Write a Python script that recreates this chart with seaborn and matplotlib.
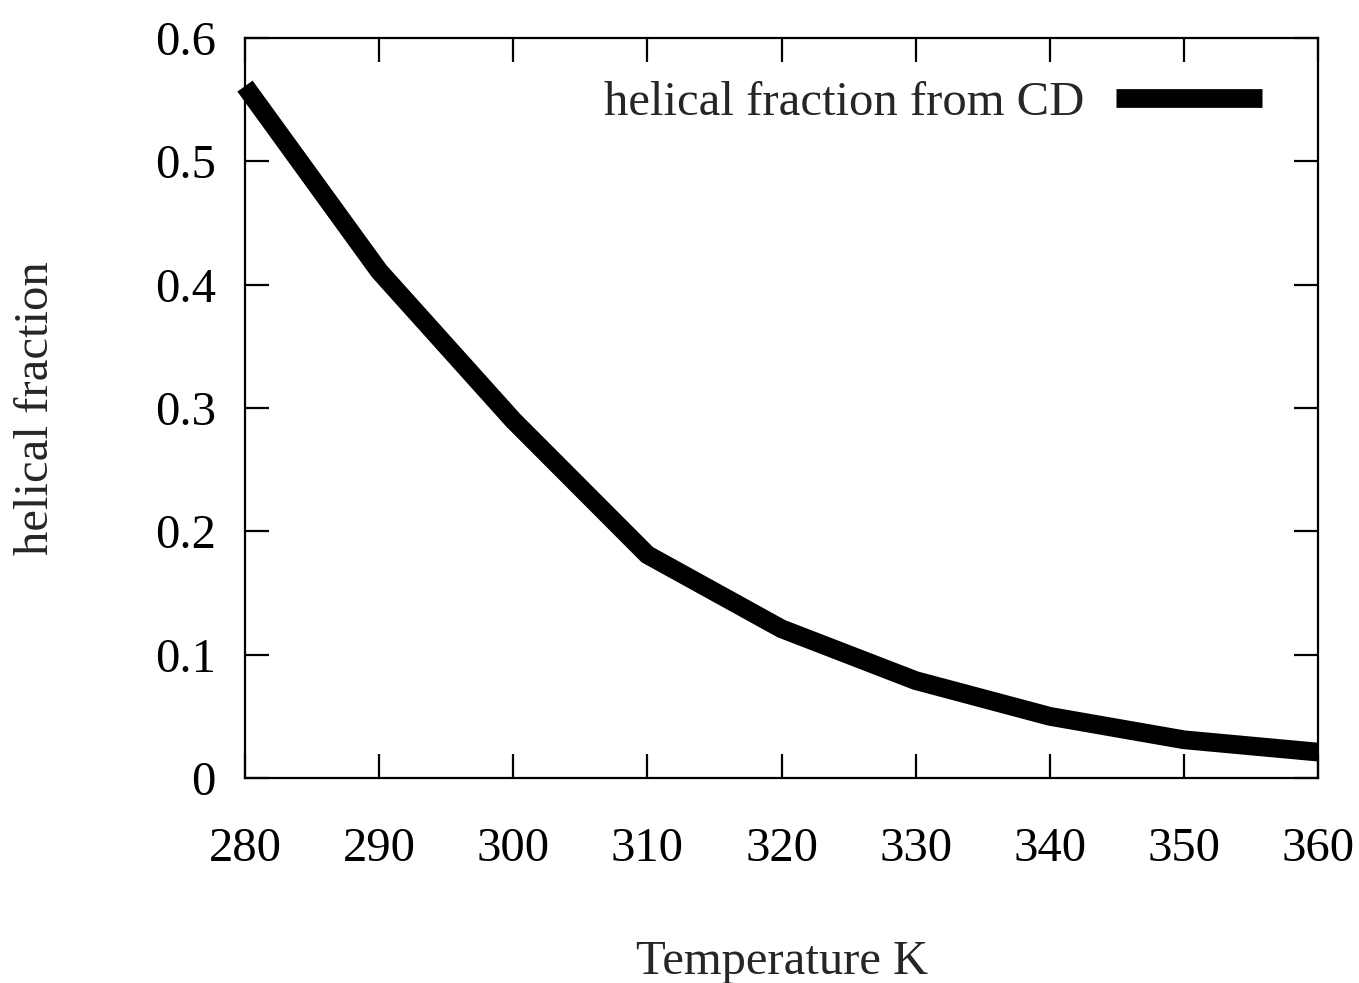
import matplotlib
matplotlib.use("Agg")
import matplotlib.pyplot as plt
import seaborn as sns
import pandas as pd

temperature = [280, 290, 300, 310, 320, 330, 340, 350, 360]
helical_fraction = [0.561, 0.411, 0.290, 0.181, 0.121, 0.079, 0.050, 0.031, 0.021]
series_label = "helical fraction from CD"
x_ticks = [280, 290, 300, 310, 320, 330, 340, 350, 360]
y_ticks = [0, 0.1, 0.2, 0.3, 0.4, 0.5, 0.6]
y_tick_labels = ["0", "0.1", "0.2", "0.3", "0.4", "0.5", "0.6"]

sns.set_style("ticks")
plt.rcParams['font.family'] = ['Liberation Serif', 'DejaVu Serif']

df = pd.DataFrame({"T": temperature, "f": helical_fraction})

fig = plt.figure(figsize=(13.59, 9.83), dpi=100)
ax = fig.add_axes([245/1359, 1 - 778/983, (1318-245)/1359, (778-38)/983])

sns.lineplot(data=df, x="T", y="f", ax=ax, color="black", linewidth=13.5,
             label=series_label, solid_capstyle="butt", solid_joinstyle="miter",
             clip_on=False)

ax.set_xlim(280, 360)
ax.set_ylim(0, 0.6)
ax.set_xticks(x_ticks)
ax.set_xticklabels([str(t) for t in x_ticks])
ax.set_yticks(y_ticks)
ax.set_yticklabels(y_tick_labels)

for s in ax.spines.values():
    s.set_visible(True)
    s.set_linewidth(1.6)
    s.set_color("black")

fs = 35
ax.tick_params(axis="both", which="both", direction="in", length=17, width=1.6,
               top=True, right=True, labelsize=fs, colors="black")
ax.tick_params(axis="x", pad=35)
ax.tick_params(axis="y", pad=21)

ax.set_xlabel("Temperature K", fontsize=fs, labelpad=50)
ax.set_ylabel("helical fraction", fontsize=fs, labelpad=70)

leg = ax.legend(loc="center right", bbox_to_anchor=((1262-245)/1073, (778-103)/740),
                frameon=False, markerfirst=False, fontsize=fs,
                handlelength=3.0, handletextpad=0.65, borderaxespad=0, borderpad=0)
for h in leg.get_lines():
    h.set_linewidth(13.5)
    h.set_solid_capstyle("butt")

fig.savefig("out.png", dpi=100, facecolor="white")
